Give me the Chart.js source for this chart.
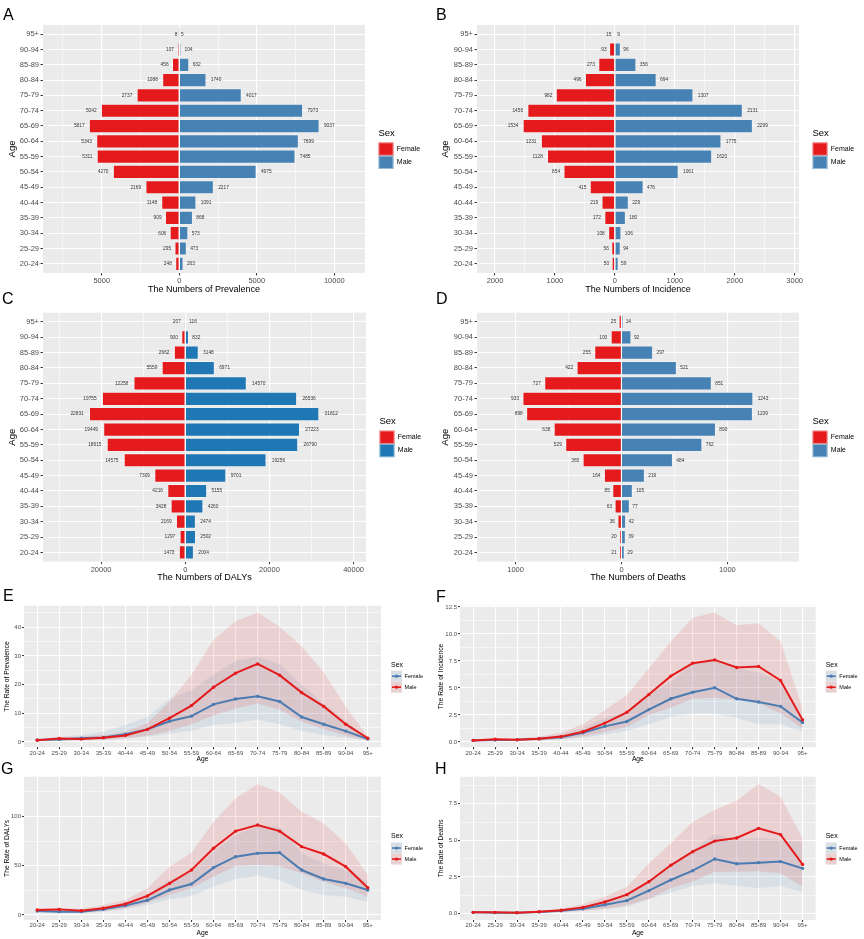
<!DOCTYPE html>
<html><head><meta charset="utf-8">
<script src="https://cdn.jsdelivr.net/npm/chart.js@4.4.1/dist/chart.umd.min.js"></script>
<style>
html,body{margin:0;padding:0;background:#fff;}
body{width:864px;height:939px;position:relative;overflow:hidden;font-family:"Liberation Sans",Arial,sans-serif;}
canvas{position:absolute;}
.tag{position:absolute;font-size:16px;line-height:16px;color:#000;font-family:"Liberation Sans",Arial,sans-serif;}
</style></head><body>
<canvas id="cA"></canvas><canvas id="cB"></canvas><canvas id="cC"></canvas><canvas id="cD"></canvas>
<canvas id="cE"></canvas><canvas id="cF"></canvas><canvas id="cG"></canvas><canvas id="cH"></canvas>
<div class="tag" style="left:3px;top:7px">A</div>
<div class="tag" style="left:436px;top:7px">B</div>
<div class="tag" style="left:2px;top:291px">C</div>
<div class="tag" style="left:436px;top:291px">D</div>
<div class="tag" style="left:3px;top:588px">E</div>
<div class="tag" style="left:436px;top:589px">F</div>
<div class="tag" style="left:1px;top:761px">G</div>
<div class="tag" style="left:435px;top:761px">H</div>
<script>
// ---------- data ----------
const ages = ['20-24','25-29','30-34','35-39','40-44','45-49','50-54','55-59','60-64','65-69','70-74','75-79','80-84','85-89','90-94','95+'];
const sexes = ['Female','Male'];
const legendTitle = 'Sex';

// A: numbers of prevalence
const prevFemale = [248,295,606,909,1148,2169,4270,5311,5343,5817,5042,2737,1088,456,107,8];
const prevMale   = [263,473,573,868,1091,2217,4975,7485,7699,9037,7973,4017,1740,632,104,5];
// B: numbers of incidence
const incFemale = [50,56,108,172,219,415,854,1128,1231,1534,1456,982,496,273,93,15];
const incMale   = [59,94,106,180,229,476,1061,1620,1775,2299,2131,1307,694,356,96,9];
// C: numbers of DALYs
const dalyFemale = [1473,1297,2169,3428,4216,7309,14575,18615,19449,22831,19755,12258,5559,2662,900,207];
const dalyMale   = [2004,2502,2474,4260,5155,9701,19256,26790,27223,31812,26536,14570,6971,3148,832,116];
// D: numbers of deaths
const deathFemale = [21,20,36,63,85,164,365,529,638,898,933,727,422,255,100,25];
const deathMale   = [29,39,42,77,105,219,484,762,890,1239,1243,851,521,297,92,14];

// E: rate of prevalence (value, lower, upper)
const prevRateFemale   = [0.7,0.9,1.3,1.6,2.7,4.4,7.2,9.0,13.1,15.0,15.9,14.1,8.7,6.2,3.8,1.0];
const prevRateFemaleLo = [0.3,0.5,0.6,0.8,1.3,1.9,2.9,4.0,5.9,6.7,7.8,6.2,3.8,2.4,1.5,0.6];
const prevRateFemaleUp = [1.2,1.7,2.4,3.6,5.9,8.8,15.2,18.0,23.6,28.3,29.8,27.1,19.9,13.5,7.1,1.3];
const prevRateMale     = [0.6,1.2,1.0,1.5,2.3,4.4,8.3,12.7,19.1,24.0,27.2,23.3,17.2,12.4,6.2,1.3];
const prevRateMaleLo   = [0.2,0.5,0.5,0.7,1.2,2.2,3.8,6.2,9.2,11.7,13.4,11.2,7.1,4.5,2.2,0.6];
const prevRateMaleUp   = [1.0,1.5,1.9,2.4,3.6,6.5,14.0,23.4,35.6,42.2,45.1,40.2,33.3,24.3,12.3,1.9];
// F: rate of incidence
const incRateFemale   = [0.15,0.18,0.2,0.3,0.45,0.85,1.45,1.9,3.0,4.0,4.6,5.03,4.0,3.7,3.3,1.8];
const incRateFemaleLo = [0.1,0.12,0.12,0.15,0.25,0.4,0.7,1.05,1.65,2.35,2.65,2.65,2.25,1.65,1.65,0.95];
const incRateFemaleUp = [0.2,0.25,0.3,0.45,0.7,1.3,2.2,2.8,4.35,5.6,7.3,7.7,6.75,6.45,5.6,2.35];
const incRateMale     = [0.15,0.25,0.2,0.3,0.5,0.95,1.75,2.75,4.4,6.1,7.3,7.6,6.9,7.0,5.7,2.05];
const incRateMaleLo   = [0.1,0.12,0.12,0.15,0.25,0.5,0.93,1.4,2.5,3.2,4.0,4.1,3.9,3.6,2.65,1.25];
const incRateMaleUp   = [0.2,0.35,0.35,0.5,0.85,1.65,2.95,4.35,6.8,9.3,11.5,12.0,10.8,11.0,9.3,3.1];
// G: rate of DALYs
const dalyRateFemale   = [4.0,3.4,3.4,5.7,9.5,14.9,25.3,31.4,48.0,59.1,62.5,63.2,45.6,36.5,32.1,25.3];
const dalyRateFemaleLo = [2.4,1.7,1.7,3.4,6.1,10.1,15.9,19.3,28.7,36.5,39.9,35.5,25.3,20.3,18.6,13.5];
const dalyRateFemaleUp = [5.4,5.1,4.7,7.8,12.5,20.3,35.5,43.9,64.2,81.1,89.5,89.5,62.5,52.4,45.6,33.8];
const dalyRateMale     = [5.1,5.7,4.4,6.8,11.1,19.3,32.0,45.6,67.6,85.0,91.2,85.0,69.3,61.8,49.0,27.7];
const dalyRateMaleLo   = [3.4,3.0,2.4,4.1,6.8,12.5,20.3,27.0,38.9,49.7,50.7,49.7,42.2,33.8,27.0,18.6];
const dalyRateMaleUp   = [6.4,7.4,6.4,10.1,15.2,27.0,49.0,63.2,94.6,118.0,132.8,124.3,104.7,92.9,72.6,40.5];
// H: rate of deaths
const deathRateFemale   = [0.09,0.07,0.07,0.11,0.2,0.34,0.61,0.89,1.57,2.3,2.93,3.73,3.41,3.48,3.55,3.09];
const deathRateFemaleLo = [0.05,0.05,0.05,0.07,0.09,0.18,0.32,0.45,0.98,1.45,1.89,2.07,1.89,1.75,1.89,1.5];
const deathRateFemaleUp = [0.11,0.11,0.09,0.16,0.27,0.48,0.93,1.27,2.3,3.43,4.34,5.43,5.02,5.18,5.02,4.91];
const deathRateMale     = [0.09,0.09,0.07,0.14,0.23,0.43,0.8,1.3,2.18,3.3,4.23,4.95,5.16,5.82,5.39,3.36];
const deathRateMaleLo   = [0.05,0.05,0.05,0.07,0.11,0.2,0.34,0.57,1.02,1.73,2.18,2.86,2.86,2.9,2.75,1.84];
const deathRateMaleUp   = [0.14,0.14,0.11,0.2,0.34,0.66,1.16,1.84,3.43,4.8,6.27,7.07,7.7,8.84,7.98,5.14];

// ---------- styling helpers ----------
const FONT = '"Liberation Sans", Arial, Helvetica, sans-serif';
const RED = '#E41A1C', STEEL = '#4682B4', BLUE_C = '#1F78B4', FEM_LINE = '#4A7BB1';
const RED_BAND = 'rgba(228,26,28,0.12)', BLUE_BAND = 'rgba(70,130,180,0.12)';
const TICK_COL = '#4D4D4D', MARK_COL = '#333333';

const isMult = (v, m) => Math.abs(v / m - Math.round(v / m)) < 1e-7;
function stepTicks(min, max, step) {
  const t = [];
  for (let k = Math.ceil(min / step - 1e-9); k * step <= max + 1e-9; k++) t.push({ value: +(k * step).toFixed(6) });
  return t;
}
const plotBg = {
  id: 'plotBg',
  beforeDraw(chart) {
    const { ctx, chartArea: a } = chart;
    ctx.save(); ctx.fillStyle = '#EBEBEB';
    ctx.fillRect(a.left, a.top, a.right - a.left, a.bottom - a.top);
    ctx.restore();
  }
};
const barLabels = {
  id: 'barLabels',
  afterDatasetsDraw(chart) {
    const ctx = chart.ctx;
    ctx.save();
    ctx.font = '4.8px ' + FONT; ctx.fillStyle = '#333'; ctx.textBaseline = 'middle';
    chart.data.datasets.forEach((ds, di) => {
      chart.getDatasetMeta(di).data.forEach((el, i) => {
        const v = ds.data[i].x, txt = String(Math.abs(v));
        const gap = 0.35 * ctx.measureText(txt).width + 0.8;
        if (v < 0) { ctx.textAlign = 'right'; ctx.fillText(txt, el.x - gap, el.y); }
        else { ctx.textAlign = 'left'; ctx.fillText(txt, el.x + gap, el.y); }
      });
    });
    ctx.restore();
  }
};
function makeLegend(o) {
  return {
    id: 'sexLegend',
    afterDraw(chart) {
      const { ctx, chartArea: a } = chart;
      const x0 = a.right + o.dx, cy = (a.top + a.bottom) / 2;
      ctx.save();
      ctx.textBaseline = 'middle'; ctx.textAlign = 'left'; ctx.fillStyle = '#000';
      ctx.font = o.titleSize + 'px ' + FONT;
      ctx.fillText(legendTitle, x0, cy + o.titleDy);
      o.items.forEach((it, k) => {
        const top = cy + o.keyDy + k * o.keyH, mid = top + o.keyH / 2;
        if (o.kind === 'bar') {
          ctx.fillStyle = it.color; ctx.fillRect(x0, top, o.keyW, o.keyH);
          ctx.strokeStyle = 'rgba(255,255,255,0.45)'; ctx.lineWidth = 1;
          ctx.strokeRect(x0 + 0.5, top + 0.5, o.keyW - 1, o.keyH - 1);
        } else {
          ctx.fillStyle = '#EBEBEB'; ctx.fillRect(x0, top, o.keyW, o.keyH);
          ctx.fillStyle = it.band; ctx.fillRect(x0, top, o.keyW, o.keyH);
          ctx.strokeStyle = it.color; ctx.lineWidth = 1.6;
          ctx.beginPath(); ctx.moveTo(x0 + 1, mid); ctx.lineTo(x0 + o.keyW - 1, mid); ctx.stroke();
          ctx.fillStyle = it.color; ctx.beginPath(); ctx.arc(x0 + o.keyW / 2, mid, 1.6, 0, Math.PI * 2); ctx.fill();
        }
        ctx.fillStyle = '#000'; ctx.font = o.labelSize + 'px ' + FONT;
        ctx.fillText(it.label, x0 + o.textDx, mid);
      });
      ctx.restore();
    }
  };
}
function place(cv, p) {
  cv.width = p.w; cv.height = p.h;
  cv.style.left = p.left + 'px'; cv.style.top = p.top + 'px';
  cv.style.width = p.w + 'px'; cv.style.height = p.h + 'px';
}

// ---------- population pyramids ----------
function pyramid(p) {
  const cv = document.getElementById(p.id); place(cv, p);
  const yW = p.area.l - p.left, padTop = p.area.t - p.top, padRight = p.left + p.w - p.area.r, xH = p.top + p.h - p.area.b;
  const barStyle = { borderColor: 'rgba(255,255,255,0.4)', borderWidth: 0.8, borderSkipped: 'start', categoryPercentage: 1, barPercentage: 0.9 };
  new Chart(cv, {
    type: 'bar',
    data: { datasets: [
      Object.assign({ label: sexes[0], data: p.female.map((v, i) => ({ x: -v, y: i })), backgroundColor: RED }, barStyle),
      Object.assign({ label: sexes[1], data: p.male.map((v, i) => ({ x: v, y: i })), backgroundColor: p.maleColor }, barStyle)
    ]},
    options: {
      indexAxis: 'y', responsive: false, animation: false, devicePixelRatio: 1,
      layout: { padding: { left: 0, top: padTop, right: padRight, bottom: 0 } },
      plugins: { legend: { display: false }, tooltip: { enabled: false } },
      scales: {
        x: {
          type: 'linear', stacked: true, min: p.xmin, max: p.xmax, offset: false,
          afterBuildTicks: s => { s.ticks = stepTicks(p.xmin, p.xmax, p.step); },
          afterFit: s => { s.height = xH; },
          border: { display: false },
          grid: { offset: false, color: '#FFFFFF', lineWidth: c => (c.tick && isMult(c.tick.value, p.major)) ? 1.1 : 0.55,
                  tickColor: c => (c.tick && isMult(c.tick.value, p.major)) ? MARK_COL : 'rgba(0,0,0,0)',
                  tickLength: 2.5, tickWidth: 1 },
          ticks: { autoSkip: false, maxRotation: 0, padding: 1, color: TICK_COL, font: { family: FONT, size: 7.5 },
                   callback: v => isMult(v, p.major) ? String(Math.abs(v)) : '' },
          title: { display: true, text: p.xTitle, color: '#000', font: { family: FONT, size: 9 }, padding: { top: 0, bottom: p.xTitlePad } }
        },
        y: {
          type: 'linear', stacked: true, min: -0.6, max: ages.length - 1 + 0.6, offset: false,
          afterBuildTicks: s => { s.ticks = ages.map((_, i) => ({ value: i })); },
          afterFit: s => { s.width = yW; },
          border: { display: false },
          grid: { offset: false, color: '#FFFFFF', lineWidth: 1.1, tickColor: MARK_COL, tickLength: 2.5, tickWidth: 1 },
          ticks: { autoSkip: false, padding: 1.5, color: TICK_COL, font: { family: FONT, size: 7.5 }, callback: v => ages[v] },
          title: { display: true, text: 'Age', color: '#000', font: { family: FONT, size: 9.5 }, padding: { top: p.yTitlePad, bottom: 0 } }
        }
      }
    },
    plugins: [plotBg, barLabels, makeLegend({ kind: 'bar', dx: 13.5, titleDy: -16, keyDy: -6.6, keyH: 13.3, keyW: 15, textDx: 18.3,
      titleSize: 9.5, labelSize: 7, items: [{ label: sexes[0], color: RED }, { label: sexes[1], color: p.maleColor }] })]
  });
}

pyramid({ id: 'cA', left: 0, top: 0, w: 432, h: 300, area: { l: 43, t: 25, r: 365, b: 273 },
  female: prevFemale, male: prevMale, maleColor: STEEL, xmin: -8790, xmax: 11980, step: 2500, major: 5000,
  xTitle: 'The Numbers of Prevalence', xTitlePad: 5.1, yTitlePad: 6.3 });
pyramid({ id: 'cB', left: 432, top: 0, w: 432, h: 300, area: { l: 477, t: 25, r: 799, b: 273 },
  female: incFemale, male: incMale, maleColor: STEEL, xmin: -2300, xmax: 3072, step: 500, major: 1000,
  xTitle: 'The Numbers of Incidence', xTitlePad: 5.1, yTitlePad: 7.3 });
pyramid({ id: 'cC', left: 0, top: 300, w: 432, h: 285, area: { l: 43, t: 312.7, r: 366, b: 561.7 },
  female: dalyFemale, male: dalyMale, maleColor: BLUE_C, xmin: -33810, xmax: 42950, step: 10000, major: 20000,
  xTitle: "The Numbers of DALYs", xTitlePad: 1.6, yTitlePad: 6.3 });
pyramid({ id: 'cD', left: 432, top: 300, w: 432, h: 285, area: { l: 477, t: 312.7, r: 799, b: 561.7 },
  female: deathFemale, male: deathMale, maleColor: STEEL, xmin: -1364, xmax: 1676, step: 500, major: 1000,
  xTitle: 'The Numbers of Deaths', xTitlePad: 1.6, yTitlePad: 7.3 });

// ---------- rate line charts with uncertainty ribbons ----------
function rateChart(p) {
  const cv = document.getElementById(p.id); place(cv, p);
  const yW = p.area.l - p.left, padTop = p.area.t - p.top, padRight = p.left + p.w - p.area.r, xH = p.top + p.h - p.area.b;
  const pts = arr => arr.map((v, i) => ({ x: i, y: v }));
  const band = { borderWidth: 0, pointRadius: 0, tension: 0, borderColor: 'rgba(0,0,0,0)' };
  const line = { borderWidth: 2, pointRadius: 1.7, pointHoverRadius: 1.7, tension: 0, fill: false, pointBorderWidth: 0 };
  new Chart(cv, {
    type: 'line',
    data: { datasets: [
      Object.assign({ data: pts(p.fUp), fill: '+1', backgroundColor: BLUE_BAND, order: 10 }, band),
      Object.assign({ data: pts(p.fLo), fill: false, order: 11 }, band),
      Object.assign({ data: pts(p.mUp), fill: '+1', backgroundColor: RED_BAND, order: 8 }, band),
      Object.assign({ data: pts(p.mLo), fill: false, order: 9 }, band),
      Object.assign({ label: sexes[0], data: pts(p.f), borderColor: FEM_LINE, backgroundColor: FEM_LINE, order: 1 }, line),
      Object.assign({ label: sexes[1], data: pts(p.m), borderColor: RED, backgroundColor: RED, order: 0 }, line)
    ]},
    options: {
      responsive: false, animation: false, devicePixelRatio: 1,
      layout: { padding: { left: 0, top: padTop, right: padRight, bottom: 0 } },
      plugins: { legend: { display: false }, tooltip: { enabled: false } },
      scales: {
        x: {
          type: 'linear', min: -0.6, max: ages.length - 1 + 0.6,
          afterBuildTicks: s => { s.ticks = ages.map((_, i) => ({ value: i })); },
          afterFit: s => { s.height = xH; },
          border: { display: false },
          grid: { color: '#FFFFFF', lineWidth: 1.1, tickColor: MARK_COL, tickLength: 2, tickWidth: 1 },
          ticks: { autoSkip: false, maxRotation: 0, padding: 0, color: TICK_COL, font: { family: FONT, size: 6 }, callback: v => ages[v] },
          title: { display: true, text: 'Age', color: '#000', font: { family: FONT, size: 6.7 }, padding: { top: 0, bottom: p.xTitlePad } }
        },
        y: {
          type: 'linear', min: p.ymin, max: p.ymax,
          afterBuildTicks: s => { s.ticks = stepTicks(p.ymin, p.ymax, p.step); },
          afterFit: s => { s.width = yW; },
          border: { display: false },
          grid: { color: '#FFFFFF', lineWidth: c => (c.tick && isMult(c.tick.value, p.major)) ? 1.1 : 0.55,
                  tickColor: c => (c.tick && isMult(c.tick.value, p.major)) ? MARK_COL : 'rgba(0,0,0,0)',
                  tickLength: 2, tickWidth: 1 },
          ticks: { autoSkip: false, padding: 1, color: TICK_COL, font: { family: FONT, size: 6 },
                   callback: v => isMult(v, p.major) ? v.toFixed(p.dec) : '' },
          title: { display: true, text: p.yTitle, color: '#000', font: { family: FONT, size: 6.7 }, padding: { top: p.yTitlePad, bottom: 0 } }
        }
      }
    },
    plugins: [plotBg, makeLegend({ kind: 'line', dx: 10, titleDy: -11.8, keyDy: -5.8, keyH: 11, keyW: 11, textDx: 13.6,
      titleSize: 7, labelSize: 5.5, items: [{ label: sexes[0], color: FEM_LINE, band: BLUE_BAND }, { label: sexes[1], color: RED, band: RED_BAND }] })]
  });
}

rateChart({ id: 'cE', left: 0, top: 585, w: 432, h: 180, area: { l: 24, t: 605.7, r: 381, b: 747.3 },
  f: prevRateFemale, fLo: prevRateFemaleLo, fUp: prevRateFemaleUp, m: prevRateMale, mLo: prevRateMaleLo, mUp: prevRateMaleUp,
  ymin: -1.85, ymax: 47.5, step: 5, major: 10, dec: 0, yTitle: 'The Rate of Prevalence', xTitlePad: 1.7, yTitlePad: 2.7 });
rateChart({ id: 'cF', left: 432, top: 585, w: 432, h: 180, area: { l: 460, t: 605.7, r: 815.7, b: 747.3 },
  f: incRateFemale, fLo: incRateFemaleLo, fUp: incRateFemaleUp, m: incRateMale, mLo: incRateMaleLo, mUp: incRateMaleUp,
  ymin: -0.49, ymax: 12.62, step: 1.25, major: 2.5, dec: 1, yTitle: 'The Rate of Incidence', xTitlePad: 1.7, yTitlePad: 5 });
rateChart({ id: 'cG', left: 0, top: 760, w: 432, h: 179, area: { l: 24, t: 776.7, r: 381, b: 920 },
  f: dalyRateFemale, fLo: dalyRateFemaleLo, fUp: dalyRateFemaleUp, m: dalyRateMale, mLo: dalyRateMaleLo, mUp: dalyRateMaleUp,
  ymin: -5.07, ymax: 140.2, step: 25, major: 50, dec: 0, yTitle: "The Rate of DALYs", xTitlePad: 1.7, yTitlePad: 2.7 });
rateChart({ id: 'cH', left: 432, top: 760, w: 432, h: 179, area: { l: 460, t: 776.7, r: 815.7, b: 920 },
  f: deathRateFemale, fLo: deathRateFemaleLo, fUp: deathRateFemaleUp, m: deathRateMale, mLo: deathRateMaleLo, mUp: deathRateMaleUp,
  ymin: -0.43, ymax: 9.34, step: 1.25, major: 2.5, dec: 1, yTitle: 'The Rate of Deaths', xTitlePad: 1.7, yTitlePad: 5 });
</script>
</body></html>
